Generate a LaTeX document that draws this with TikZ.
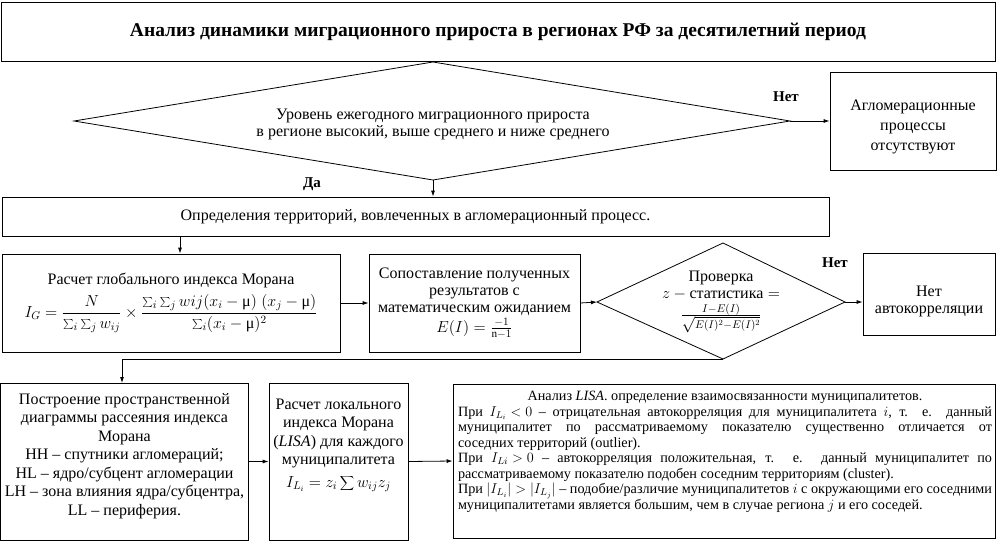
\RequirePackage{fix-cm}
\documentclass[tikz,border=0pt]{standalone}
\usepackage{fontspec}
\setmainfont{Liberation Serif}
\usetikzlibrary{arrows.meta,shadows}
\newcommand{\umu}{\mbox{μ}}
\begin{document}
\begin{tikzpicture}[x=1pt,y=-1pt,
  box/.style={draw, line width=0.8pt, rectangle, inner sep=2pt, align=center,
    font=\fontsize{16}{17}\selectfont},
  shadowed/.style={drop shadow={shadow xshift=1pt, shadow yshift=-1.3pt, fill=black, opacity=1}},
  diatext/.style={inner sep=0pt, align=center, font=\fontsize{16}{17}\selectfont},
  dialine/.style={draw, line width=0.8pt, line join=miter},
  arr/.style={-{Latex[length=6pt,width=4pt]}, line width=0.8pt},
  lbl/.style={font=\fontsize{15}{17}\selectfont\bfseries}]
\useasboundingbox (0,0) rectangle (998,541);

% title
\node[box, shadowed, fill=white, minimum width=994pt, minimum height=59pt,
  font=\fontsize{19.5}{22}\selectfont\bfseries] (title) at (498,31.5)
  {Анализ динамики миграционного прироста в регионах РФ за десятилетний период};

% decision 1
\coordinate (d1w) at (74,121);
\coordinate (d1n) at (433,62);
\coordinate (d1e) at (790,121);
\coordinate (d1s) at (433,180);
\draw[dialine] (d1w) -- (d1n) -- (d1e) -- (d1s) -- cycle;
\node[diatext] (d1) at (433,124.5)
  {Уровень ежегодного миграционного прироста\\в регионе высокий, выше среднего и ниже среднего};

\node[box, shadowed, fill=white, minimum width=166pt, minimum height=98pt,
  font=\fontsize{16}{20}\selectfont] (agg) at (913,121)
  {\rule{0pt}{22pt}Агломерационные\\процессы\\отсутствуют};

\draw[arr] (d1e) -- (agg.west);
\node[lbl] (no1) at (786,97) {Нет};

\node[box, shadowed, fill=white, minimum width=827pt, minimum height=39pt] (def) at (415.5,216.5)
  {Определения территорий, вовлеченных в агломерационный процесс.};

\draw[arr] (d1s) -- (d1s |- def.north);
\node[lbl] (yes1) at (312,184) {Да};

% row 2
\node[box, minimum width=338pt, minimum height=98pt] (glob) at (171,303)
  {Расчет глобального индекса Морана\\[5pt]
   $\displaystyle I_G=\frac{N}{\sum_i\sum_j w_{ij}}\times
   \frac{\sum_i\sum_j wij(x_i-\umu)\;(x_j-\umu)}{\sum_i(x_i-\umu)^2}$};

\coordinate (defout) at (180,236);
\draw[arr] (def.south -| defout) -- (glob.north -| defout);

\node[box, minimum width=211pt, minimum height=98pt] (comp) at (474.5,303)
  {Сопоставление полученных\\результатов с\\математическим ожиданием\\[3pt]
   $E(I)=\frac{-1}{\mathrm{n}-1}$};

\draw[arr] (glob.east) -- (comp.west);

% decision 2
\coordinate (d2w) at (597,302);
\coordinate (d2n) at (723,243);
\coordinate (d2e) at (845,302);
\coordinate (d2s) at (723,359);
\draw[dialine] (d2w) -- (d2n) -- (d2e) -- (d2s) -- cycle;
\node[diatext] (d2) at (721,302)
  {Проверка\\$z-\mbox{статистика}=$\\[3pt]
   $\frac{I-E(I)}{\sqrt{E(I)^2-E(I)^2}}$};

\draw[arr] (comp.east) -- (d2w);

\node[box, minimum width=132pt, minimum height=82pt] (noauto) at (929,294)
  {\rule{0pt}{25pt}Нет\\автокорреляции};

\draw[arr] (d2e) -- (d2e -| noauto.west);
\node[lbl] (no2) at (835,263) {Нет};

% row 3
\node[box, minimum width=248pt, minimum height=157pt,
  font=\fontsize{16}{18.5}\selectfont] (scat) at (124.5,461.5)
  {Построение пространственной\\диаграммы рассеяния индекса\\Морана\\
   HH – спутники агломераций;\\HL – ядро/субцент агломерации\\
   LH – зона влияния ядра/субцентра,\\LL – периферия.\\[-4pt]\mbox{}};

\coordinate (scatin) at (122,383);
\draw[arr] (d2s) -| (scatin);

\node[box, minimum width=139pt, minimum height=157pt,
  font=\fontsize{16}{18.5}\selectfont] (local) at (338.5,461.5)
  {Расчет локального\\индекса Морана\\(\textit{LISA}) для каждого\\муниципалитета\\[4pt]
   $\displaystyle I_{L_i}=z_i\sum w_{ij}z_j$\\[18pt]\mbox{}};

\draw[arr] (scat.east) -- (local.west);

\node[box, minimum width=542pt, minimum height=154pt] (lisa) at (724,461) {};
\node[anchor=north, inner sep=0pt, text width=534pt, align=justify,
  font=\fontsize{14.2}{15.5}\selectfont] (lisatext) at (725,391)
  {\parindent=0pt \thickmuskip=5mu \medmuskip=4mu
   {\centering Анализ \textit{LISA}. определение взаимосвязанности муниципалитетов.\par}
   При $I_{L_i}<0$ – отрицательная автокорреляция для муниципалитета $i$, т. е. данный\linebreak
   муниципалитет по рассматриваемому показателю существенно отличается от\linebreak
   соседних территорий (outlier).\par
   При $I_{Li}>0$ – автокорреляция положительная, т. е. данный муниципалитет по\linebreak
   рассматриваемому показателю подобен соседним территориям (cluster).\par
   При $|I_{L_i}|>|I_{L_j}|$ – подобие/различие муниципалитетов $i$ с окружающими его соседними\linebreak
   муниципалитетами является большим, чем в случае региона $j$ и его соседей.\par};

\draw[arr] (local.east) -- (lisa.west);
\end{tikzpicture}
\end{document}
